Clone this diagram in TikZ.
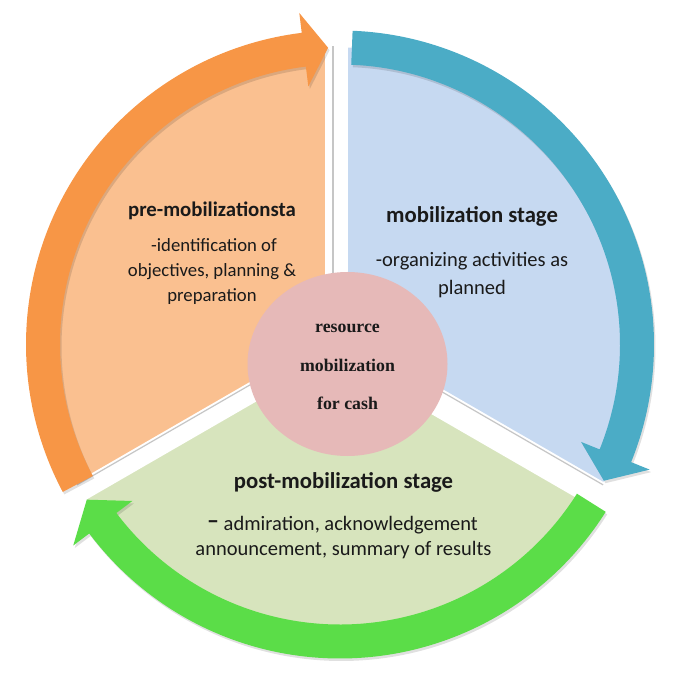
\documentclass[tikz,border=0pt]{standalone}
\usepackage{fontspec}
\setmainfont{Carlito}
\newfontfamily\serifb{Liberation Serif}
\usetikzlibrary{shapes.geometric}
\definecolor{orA}{HTML}{F79646}
\definecolor{orF}{HTML}{FAC090}
\definecolor{blA}{HTML}{4BACC6}
\definecolor{blF}{HTML}{C6D9F1}
\definecolor{grA}{HTML}{5BDD48}
\definecolor{grF}{HTML}{D7E4BD}
\definecolor{pk}{HTML}{E6B9B8}
\definecolor{txt}{HTML}{1A1A1A}
\begin{document}
\begin{tikzpicture}[x=1pt,y=1pt,
  ttl/.style={font=\bfseries\fontsize{22.7}{26}\selectfont, anchor=base, text=txt, inner sep=0},
  bd/.style={font=\fontsize{20.5}{24}\selectfont, anchor=base, text=txt, inner sep=0},
  ttls/.style={font=\bfseries\fontsize{20.8}{24}\selectfont, anchor=base, text=txt, inner sep=0},
  bds/.style={font=\fontsize{18.7}{22}\selectfont, anchor=base, text=txt, inner sep=0},
  ctxt/.style={font=\serifb\bfseries\fontsize{17.8}{20}\selectfont, anchor=base, text=txt, inner sep=0},
  sepgap/.style={fill=white},
  sepline/.style={draw=gray!45, line width=1.2pt}]
\useasboundingbox (0,0) rectangle (690,686);
\coordinate (C) at (340,341.5);
\begin{scope}[shift={(C)}]
  % sectors
  \fill[orF] (0,0) -- (90:297) arc[start angle=90,end angle=210,radius=297] -- cycle;
  \fill[grF] (0,0) -- (210:297) arc[start angle=210,end angle=330,radius=297] -- cycle;
  \fill[blF] (0,0) -- (-30:297) arc[start angle=-30,end angle=90,radius=297] -- cycle;
  % separators
  \foreach \a/\p/\q/\g in {90/15/-8/7, 210/7.5/-12.6/-10, 330/12.6/-14.6/10} {
    \begin{scope}[rotate=\a]
      \fill[sepgap] (60,\q) rectangle (306,\p);
      \draw[sepline] (60,\g) -- (298,\g);
    \end{scope}
  }
  % arrow shadows
  \foreach \s/\b/\t in {208/97/92.3, 87.7/-22/-27.3, -32.2/-143/-148.5} {
    \fill[black, opacity=0.12, shift={(1.5,-2.5)}] (\s:314) arc[start angle=\s,end angle=\b,radius=314]
      -- (\b:334) -- (\t:297) -- (\b:260) -- (\b:280)
      arc[start angle=\b,end angle=\s,radius=280] -- cycle;
  }
  % arrows
  \foreach \s/\b/\t/\c in {208/97/92.3/orA, 87.7/-22/-27.3/blA, -32.2/-143/-148.5/grA} {
    \fill[\c] (\s:314) arc[start angle=\s,end angle=\b,radius=314]
      -- (\b:334) -- (\t:297) -- (\b:260) -- (\b:280)
      arc[start angle=\b,end angle=\s,radius=280] -- cycle;
  }
\end{scope}
% centre
\node (ctr) [ellipse, fill=pk, minimum width=200, minimum height=184, inner sep=0] at (347.5,322) {};
\node (c1) [ctxt] at (347.5,353) {resource};
\node (c2) [ctxt] at (347.5,315) {mobilization};
\node (c3) [ctxt] at (347.5,277) {for cash};
% pre-mobilization
\node (p0) [ttls] at (212,469) {pre-mobilizationsta};
\node (p1) [bds] at (214,434) {-identification of};
\node (p2) [bds] at (212,409) {objectives, planning \&};
\node (p3) [bds] at (212,384) {preparation};
% mobilization
\node (m0) [ttl] at (472,463) {mobilization stage};
\node (m1) [bd] at (472,419) {-organizing activities as};
\node (m2) [bd] at (472,391) {planned};
% post-mobilization
\node (q0) [ttl] at (343.5,198) {post-mobilization stage};
\node (q1) [bd] at (342.5,156) {\raisebox{2pt}{\bfseries\fontsize{24}{24}\selectfont –} admiration, acknowledgement};
\node (q2) [bd] at (343.5,131) {announcement, summary of results};
\end{tikzpicture}
\end{document}
